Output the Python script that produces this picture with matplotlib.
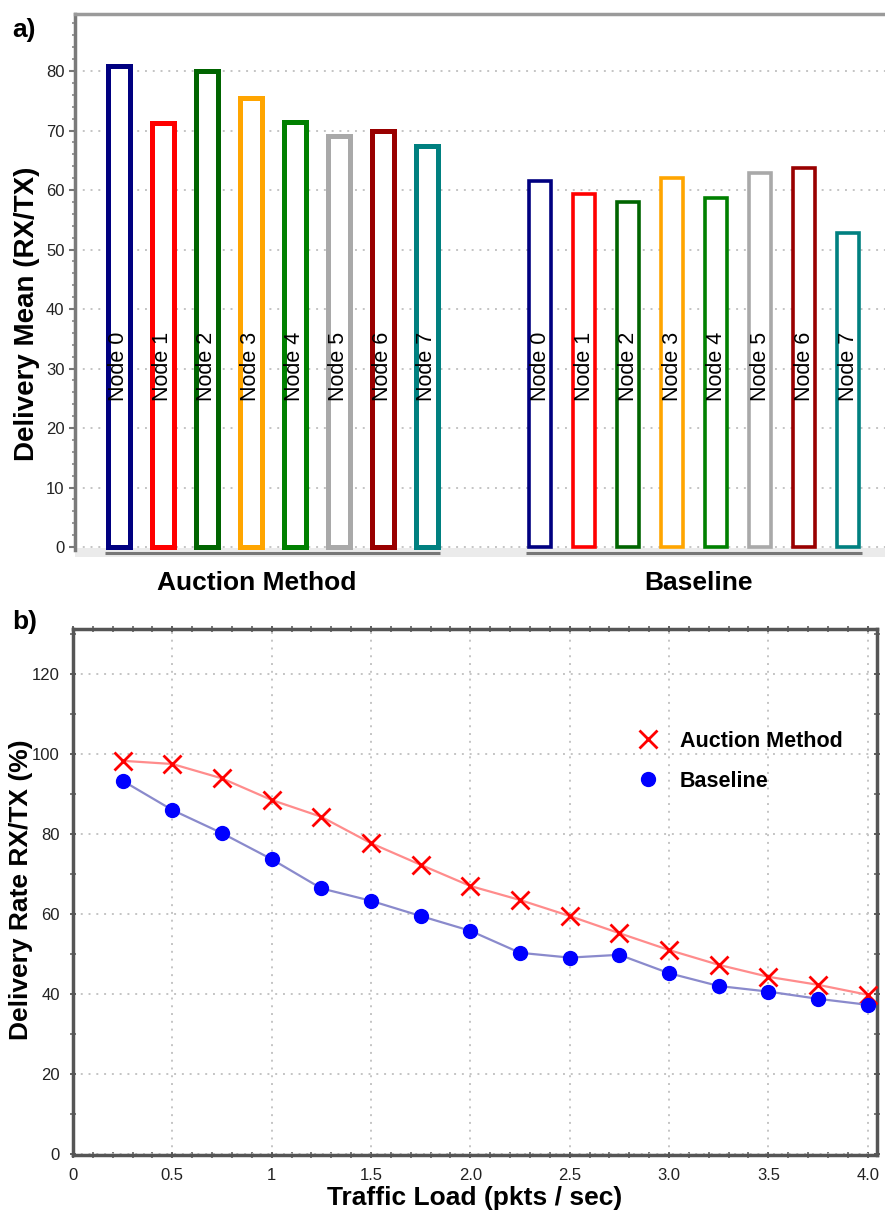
import matplotlib
matplotlib.use('Agg')
import matplotlib.pyplot as plt
import numpy as np
from matplotlib.lines import Line2D
from matplotlib.ticker import MultipleLocator
import matplotlib.transforms as mtransforms

plt.rcParams['font.family'] = ['Liberation Sans', 'DejaVu Sans']

# ---------------- data ----------------
groups = ['Auction Method', 'Baseline']
nodes = ['Node 0', 'Node 1', 'Node 2', 'Node 3', 'Node 4', 'Node 5', 'Node 6', 'Node 7']
node_colors = ['#000080', '#ff0000', '#006400', '#ffa500', '#008000', '#a9a9a9', '#990000', '#008080']
auction_mean = [80.9, 71.3, 80.0, 75.4, 71.5, 69.0, 70.0, 67.4]
baseline_mean = [61.5, 59.3, 58.0, 62.0, 58.6, 62.9, 63.7, 52.7]

traffic_load = [0.25, 0.5, 0.75, 1.0, 1.25, 1.5, 1.75, 2.0,
                2.25, 2.5, 2.75, 3.0, 3.25, 3.5, 3.75, 4.0]
auction_rate = [98.3, 97.5, 93.9, 88.5, 84.3, 77.7, 72.3, 67.0,
                63.5, 59.5, 55.2, 51.0, 47.3, 44.3, 42.3, 39.8]
baseline_rate = [93.3, 86.0, 80.2, 73.7, 66.4, 63.3, 59.5, 55.8,
                 50.3, 49.1, 49.8, 45.2, 42.0, 40.6, 38.8, 37.3]
x_tick_values = [0, 0.5, 1, 1.5, 2.0, 2.5, 3.0, 3.5, 4.0]
x_tick_labels = ['0', '0.5', '1', '1.5', '2.0', '2.5', '3.0', '3.5', '4.0']

W, H = 885, 1210
fig = plt.figure(figsize=(W / 100, H / 100), dpi=100)

# ---------------- panel a ----------------
ax1 = fig.add_axes([75 / W, 1 - 557 / H, 810 / W, (557 - 14) / H])
group_offset = 9.58
series = [auction_mean, baseline_mean]
edge_lw = [3.6, 2.6]
for g, vals in enumerate(series):
    pos = g * group_offset + np.arange(len(nodes))
    ax1.bar(pos, vals, width=0.5, facecolor='white', edgecolor=node_colors,
            linewidth=edge_lw[g], zorder=3)
    for i, name in enumerate(nodes):
        ax1.text(pos[i], 24.5, name, rotation=90, ha='center', va='bottom',
                 fontsize=15.5, color='black', zorder=4)
    ax1.hlines(-1.0, pos[0] - 0.31, pos[-1] + 0.31, color='#777777', lw=2.2,
               zorder=4, clip_on=False)
    trans = mtransforms.blended_transform_factory(ax1.transData, fig.transFigure)
    label_shift = [-0.37, 0.1][g]
    ax1.text(pos.mean() + label_shift, 1 - 583 / H, groups[g], transform=trans,
             ha='center', va='center', fontsize=19, fontweight='bold')

ax1.axhspan(-1.68, -0.17, color='#ebebeb', zorder=1, lw=0)
ax1.set_xlim(-0.989, 17.42)
ax1.set_ylim(-1.68, 89.58)
ax1.set_xticks([])
ax1.yaxis.set_minor_locator(MultipleLocator(2))
ax1.set_yticks(np.arange(0, 81, 10))
ax1.tick_params(axis='y', which='major', labelsize=12, labelcolor='#222222',
                color='#777777', length=4, width=1.5, direction='out')
ax1.tick_params(axis='y', which='minor', color='#888888', length=2.5, width=1.2,
                direction='out')
ax1.set_axisbelow(True)
ax1.yaxis.grid(True, which='major', linestyle=(0, (1, 3)), color='#c4c4c4', lw=1.4)
for s in ['right', 'bottom']:
    ax1.spines[s].set_visible(False)
ax1.spines['left'].set_color('#7a7a7a')
ax1.spines['left'].set_linewidth(2.5)
ax1.spines['left'].set_bounds(-0.5, 89.58)
ax1.spines['top'].set_color('#9a9a9a')
ax1.spines['top'].set_linewidth(2.5)
ax1.set_ylabel('Delivery Mean (RX/TX)', fontsize=20, fontweight='bold')
ax1.yaxis.set_label_coords(-0.043, 0.4475)

# ---------------- panel b ----------------
ax2 = fig.add_axes([73 / W, 1 - 1155 / H, 804 / W, 526 / H])
ax2.plot(traffic_load, auction_rate, color='#ff8c8c', lw=1.6, marker='x',
         markersize=13, markeredgewidth=2.0, markeredgecolor='#ff0000', zorder=3)
ax2.plot(traffic_load, baseline_rate, color='#8a8acc', lw=1.6, marker='o',
         markersize=10, markerfacecolor='#0000ff', markeredgecolor='#0000ff', zorder=4)

ax2.set_xlim(0, 4.047)
ax2.set_ylim(-0.25, 131.25)
ax2.set_xticks(x_tick_values)
ax2.set_xticklabels(x_tick_labels)
ax2.xaxis.set_minor_locator(MultipleLocator(0.1))
ax2.set_yticks(np.arange(0, 121, 20))
ax2.yaxis.set_minor_locator(MultipleLocator(10))
ax2.tick_params(which='both', top=True, right=True, direction='inout',
                color='#555555')
ax2.tick_params(which='major', length=5, width=1.3, labelsize=12,
                labelcolor='#222222', pad=7)
ax2.tick_params(which='minor', length=4, width=1.1)
ax2.set_axisbelow(True)
ax2.grid(True, which='major', linestyle=(0, (1, 3)), color='#c4c4c4', lw=1.4)
for s in ax2.spines.values():
    s.set_color('#555555')
    s.set_linewidth(2.5)

ax2.set_xlabel('Traffic Load (pkts / sec)', fontsize=19, fontweight='bold')
ax2.xaxis.set_label_coords(0.5, -0.058)
ax2.set_ylabel('Delivery Rate RX/TX (%)', fontsize=19, fontweight='bold')
ax2.yaxis.set_label_coords(-0.05, 0.504)

handles = [Line2D([], [], ls='none', marker='x', markersize=13, markeredgewidth=2.0,
                  markeredgecolor='#ff0000'),
           Line2D([], [], ls='none', marker='o', markersize=10,
                  markerfacecolor='#0000ff', markeredgecolor='#0000ff')]
ax2.legend(handles, groups, loc='upper left', bbox_to_anchor=(0.7015, 0.807),
           frameon=False, prop=dict(weight='bold', size=15.5), handlelength=1.0,
           handletextpad=1.0, labelspacing=0.9, borderpad=0, borderaxespad=0)

fig.text(12 / W, 1 - 30 / H, 'a)', fontsize=19, fontweight='bold', va='center')
fig.text(12 / W, 1 - 622 / H, 'b)', fontsize=19, fontweight='bold', va='center')

fig.savefig('out.png', dpi=100)
